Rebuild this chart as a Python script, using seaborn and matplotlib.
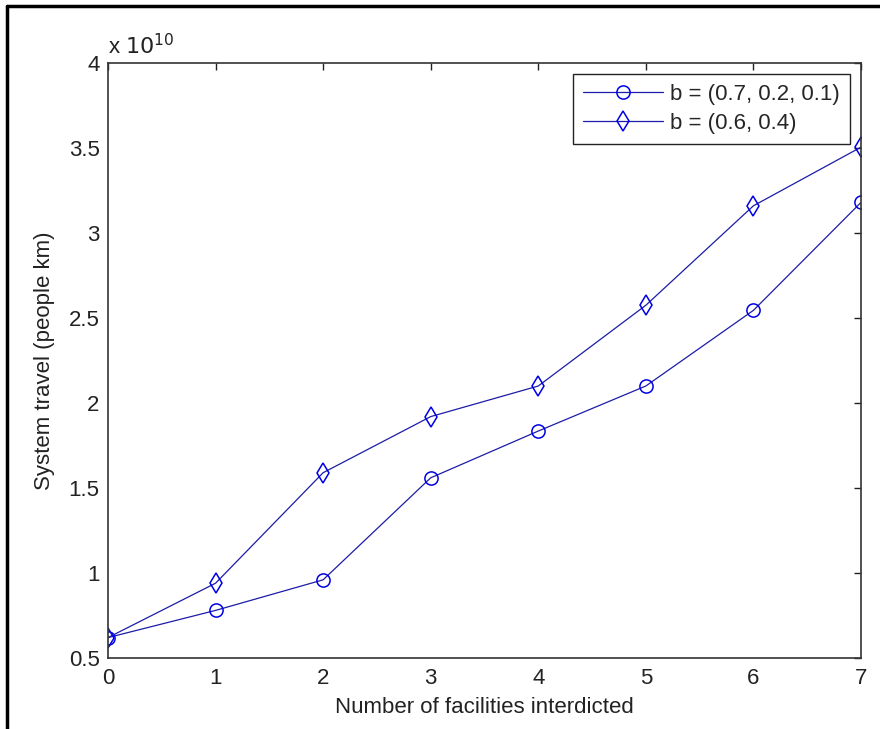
import numpy as np
import pandas as pd
import matplotlib
matplotlib.use("Agg")
import matplotlib.pyplot as plt
import seaborn as sns
from matplotlib.lines import Line2D

# values (units of 1e10 people km)
facilities = [0, 1, 2, 3, 4, 5, 6, 7]
travel_b3 = [0.62, 0.78, 0.96, 1.56, 1.835, 2.10, 2.545, 3.18]
travel_b2 = [0.62, 0.94, 1.59, 1.92, 2.10, 2.575, 3.16, 3.505]
label_b3 = "b = (0.7, 0.2, 0.1)"
label_b2 = "b = (0.6, 0.4)"

sns.set_style("white")
plt.rcParams['font.family'] = ['Liberation Sans', 'DejaVu Sans']
fs = 16

fig = plt.figure(figsize=(8.8, 7.29), dpi=100)
ax = fig.add_axes([108 / 880, 1 - 658 / 729, (861 - 108) / 880, (658 - 63) / 729])

line_col = "#1c1ca8"
mk_col = "#0000e6"

df3 = pd.DataFrame({"x": facilities, "y": travel_b3})
df2 = pd.DataFrame({"x": facilities, "y": travel_b2})
sns.lineplot(data=df3, x="x", y="y", ax=ax, color=line_col, lw=0.9, marker="o",
             markersize=9.5, markerfacecolor="none", markeredgecolor=mk_col,
             markeredgewidth=1.1, label=label_b3)
sns.lineplot(data=df2, x="x", y="y", ax=ax, color=line_col, lw=0.9, marker="d",
             markersize=10, markerfacecolor="none", markeredgecolor=mk_col,
             markeredgewidth=1.1, label=label_b2)

ax.set_xlim(0, 7)
ax.set_ylim(0.5, 4)
ax.set_xticks(facilities)
ax.set_yticks([0.5, 1, 1.5, 2, 2.5, 3, 3.5, 4])
ax.set_yticklabels(["0.5", "1", "1.5", "2", "2.5", "3", "3.5", "4"])
ax.tick_params(direction="in", length=5, width=1, top=True, right=True,
               labelsize=fs, colors="#222222")
ax.tick_params(axis="x", pad=7)
ax.tick_params(axis="y", pad=6)
for s in ax.spines.values():
    s.set_visible(True)
    s.set_color("#333333")
    s.set_linewidth(1.2)

ax.set_xlabel("Number of facilities interdicted", fontsize=fs, color="#222222", labelpad=6)
ax.set_ylabel("System travel (people km)", fontsize=fs, color="#222222", labelpad=10)
ax.text(0, 1.006, r"x $10^{10}$", transform=ax.transAxes, fontsize=fs,
        color="#222222", ha="left", va="bottom")

leg = ax.legend(loc="upper right", handlelength=3.6, numpoints=1, fontsize=fs,
                fancybox=False, framealpha=1, edgecolor="#222222",
                borderaxespad=0.5, handletextpad=0.3, labelspacing=0.35,
                borderpad=0.45)
leg.get_frame().set_linewidth(1.0)

# partial outer frame (left and top edges as in the screenshot)
fig.add_artist(Line2D([7 / 880, 7 / 880], [0, 1 - 6 / 729], transform=fig.transFigure,
                      color="black", lw=2.5))
fig.add_artist(Line2D([7 / 880, 1], [1 - 6 / 729, 1 - 6 / 729], transform=fig.transFigure,
                      color="black", lw=2.5))

fig.savefig("out.png", dpi=100)
